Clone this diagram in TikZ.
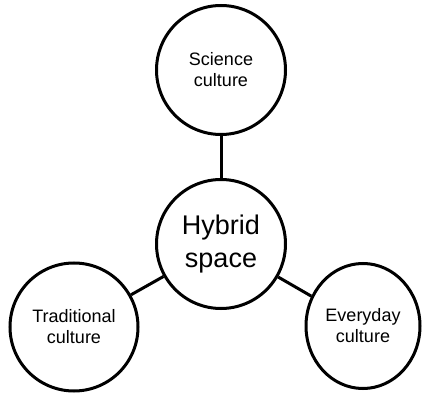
\documentclass[tikz,border=0pt]{standalone}
\usepackage{fontspec}
\setmainfont{Liberation Sans}
\usetikzlibrary{shapes.geometric}
\begin{document}
\begin{tikzpicture}[x=1pt,y=-1pt,
  bubble/.style={draw=black,line width=3pt,circle,inner sep=0pt,align=center,
    font=\fontsize{18}{21}\selectfont},
  link/.style={draw=black,line width=3pt}]
\useasboundingbox[fill=white] (0,0) rectangle (423,395);
\node[bubble,minimum size=129pt] (sci) at (221,70) {Science\\culture};
\node[bubble,minimum size=129pt,font=\fontsize{27}{33}\selectfont] (hyb) at (221,244) {Hybrid\\space};
\node[bubble,minimum size=128pt] (tra) at (74,327) {Traditional\\culture};
\node[bubble,ellipse,minimum width=114pt,minimum height=125pt] (eve) at (363,326) {Everyday\\culture};
\draw[link] (sci) -- (hyb);
\draw[link] (hyb) -- (tra);
\draw[link] (hyb) -- (eve);
\end{tikzpicture}
\end{document}
